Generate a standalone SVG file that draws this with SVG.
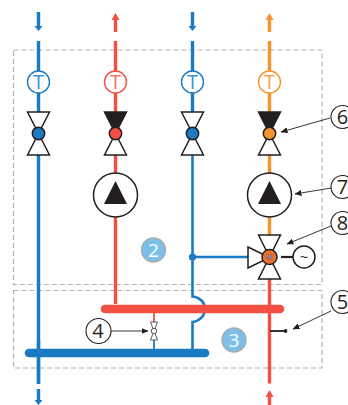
<svg xmlns="http://www.w3.org/2000/svg" width="348" height="405" viewBox="0 0 348 405">
<style>
.bl{stroke:#1a7ac2}.re{stroke:#f44f43}.or{stroke:#f7932b}
.pipe{fill:none;stroke-width:3.4}
.dash{fill:none;stroke:#b3b3b3;stroke-width:1.2;stroke-dasharray:5 3}
.t{fill:#fff;stroke-width:1.4}
.tt{font:20px "Open Sans","DejaVu Sans",sans-serif;text-anchor:middle}
.v{fill:#fff;stroke:#231f20;stroke-width:1.5;stroke-linejoin:miter}
.vd{fill:#231f20;stroke:#231f20;stroke-width:1.5}
.ball{stroke:#231f20;stroke-width:1.5}
.lab{fill:#fff;stroke:#231f20;stroke-width:1.1}
.lt{font:20px "Open Sans","DejaVu Sans",sans-serif;fill:#231f20;text-anchor:middle}
.zone{fill:#7cc0ea;stroke:#a9abae;stroke-width:1.4}
.zt{font:19px "Open Sans","DejaVu Sans",sans-serif;fill:#fff;text-anchor:middle}
.lead{fill:none;stroke:#231f20;stroke-width:.9;marker-end:url(#a)}
</style>
<defs>
<marker id="a" markerWidth="8" markerHeight="6" refX="6.5" refY="3" orient="auto" markerUnits="userSpaceOnUse"><path d="M0 0L7 3L0 6Z" fill="#231f20"/></marker>
<radialGradient id="m"><stop offset="0" stop-color="#7b7fb8"/><stop offset=".28" stop-color="#a8705f"/><stop offset=".55" stop-color="#ee6a2b"/><stop offset="1" stop-color="#f4802b"/></radialGradient>
</defs>
<g id="zones">
<rect class="dash" x="13.500" y="50" width="308.500" height="234.500"/>
<rect class="dash" x="13.500" y="290.500" width="308.500" height="77.500"/>
</g>
<g id="connectors">
<path class="pipe bl" d="M38.500 12V28M38.500 41V383.500M38.500 389V402"/>
<path class="pipe re" d="M115.500 32V18M115.500 41V304"/>
<path class="pipe bl" d="M192.500 12V28M192.500 41V112"/>
<path class="pipe or" d="M269.500 32V18M269.500 41V235"/>
<path class="pipe re" d="M269.500 279V383.500M269.500 405V396"/>
<path class="pipe bl" style="stroke-width:2.600" d="M192.500 155V296.500C199 297 205 302 205 309C205 316 199 321.500 192.500 322V350"/>
<path class="pipe bl" style="stroke-width:2.600" d="M192.500 257H248"/>
<circle cx="192.500" cy="257" r="3.600" fill="#1a7ac2"/>
<path d="M34.500 26H42.500L38.500 31ZM188.500 26H196.500L192.500 31ZM34.500 400H42.500L38.500 405Z" fill="#1a7ac2"/>
<path d="M115.500 13L119.500 20H111.500ZM269.500 390L273.500 397H265.500Z" fill="#f44f43"/>
<path d="M269.500 13L273.500 20H265.500Z" fill="#f7932b"/>
<path d="M105 309H280" stroke="#f44f43" stroke-width="8.600" stroke-linecap="round" fill="none"/>
<path d="M29 353H205" stroke="#1a7ac2" stroke-width="8.600" stroke-linecap="round" fill="none"/>
<path class="pipe bl" d="M38.500 340V384"/>
<path d="M154 313V322" stroke="#f44f43" stroke-width="1.800"/>
<path d="M154 340V349" stroke="#1a7ac2" stroke-width="1.800"/>
<path d="M270 331H285" stroke="#231f20" stroke-width="1.800"/>
<circle cx="285.500" cy="331" r="1.900" fill="#231f20"/>
<path d="M281 257H293" stroke="#231f20" stroke-width="2.200"/>
<path class="lead" d="M330 118L281 132"/>
<path class="lead" d="M331 188L295 194"/>
<path class="lead" d="M331 226L287 244"/>
<path class="lead" d="M331 311L293 329"/>
<path class="lead" d="M111 331H148"/>
</g>
<g id="sensor-t1"><circle class="t bl" cx="38.500" cy="82" r="11"/><text class="tt" x="38.500" y="89" fill="#3a93d6">T</text></g>
<g id="sensor-t2"><circle class="t re" cx="115.500" cy="82" r="11"/><text class="tt" x="115.500" y="89" fill="#f6736a">T</text></g>
<g id="sensor-t3"><circle class="t bl" cx="192.500" cy="82" r="11"/><text class="tt" x="192.500" y="89" fill="#3a93d6">T</text></g>
<g id="sensor-t4"><circle class="t or" cx="269.500" cy="82" r="11"/><text class="tt" x="269.500" y="89" fill="#f9a651">T</text></g>
<g id="valve-1"><path class="v" d="M27.500 112H49.500L27.500 155H49.500Z"/><circle class="ball" cx="38.500" cy="133.500" r="6.200" fill="#1a7ac2"/></g>
<g id="valve-2"><path class="vd" d="M104.500 112H126.500L115.500 133.500Z"/><path class="v" d="M115.500 133.500L126.500 155H104.500Z"/><circle class="ball" cx="115.500" cy="133.500" r="6.200" fill="#f44f43"/></g>
<g id="valve-3"><path class="v" d="M181.500 112H203.500L181.500 155H203.500Z"/><circle class="ball" cx="192.500" cy="133.500" r="6.200" fill="#1a7ac2"/></g>
<g id="valve-4"><path class="vd" d="M258.500 112H280.500L269.500 133.500Z"/><path class="v" d="M269.500 133.500L280.500 155H258.500Z"/><circle class="ball" cx="269.500" cy="133.500" r="6.200" fill="#f7932b"/></g>
<g id="pump-1"><circle class="v" cx="115.500" cy="195" r="22"/><path d="M115.500 181L127 204H104Z" fill="#231f20"/></g>
<g id="pump-2"><circle class="v" cx="269.500" cy="195" r="22"/><path d="M269.500 181L281 204H258Z" fill="#231f20"/></g>
<g id="mixing-valve"><path class="v" d="M258.500 235H280.500L258.500 279H280.500Z"/><path class="v" d="M248 247L269.500 257.500L248 268Z"/><circle class="ball" cx="269.500" cy="257" r="7.500" fill="url(#m)"/></g>
<g id="motor"><circle class="v" cx="304" cy="257" r="11"/><text x="304" y="262" font-family="Open Sans, sans-serif" font-size="15" text-anchor="middle" fill="#231f20">~</text></g>
<g id="check-valve"><path d="M150.500 322H157.500L150.500 340H157.500Z" fill="#fff" stroke="#58595b" stroke-width="1"/><circle cx="154" cy="331" r="2.700" fill="#fff" stroke="#58595b" stroke-width="1"/></g>
<g id="zone-2"><circle class="zone" cx="153.500" cy="250" r="12"/><text class="zt" x="153.500" y="257">2</text></g>
<g id="zone-3"><circle class="zone" cx="234" cy="340" r="12"/><text class="zt" x="234" y="347">3</text></g>
<g id="label-4"><circle class="lab" cx="98.500" cy="331" r="12.500"/><text class="lt" x="98" y="338">4</text></g>
<g id="label-6"><circle class="lab" cx="342.500" cy="117" r="11.500"/><text class="lt" x="342.500" y="124">6</text></g>
<g id="label-7"><circle class="lab" cx="342.500" cy="187" r="11.500"/><text class="lt" x="342.500" y="194">7</text></g>
<g id="label-8"><circle class="lab" cx="342.500" cy="223" r="11.500"/><text class="lt" x="342.500" y="230">8</text></g>
<g id="label-5"><circle class="lab" cx="342.500" cy="302" r="11.500"/><text class="lt" x="342.500" y="309">5</text></g>
</svg>
